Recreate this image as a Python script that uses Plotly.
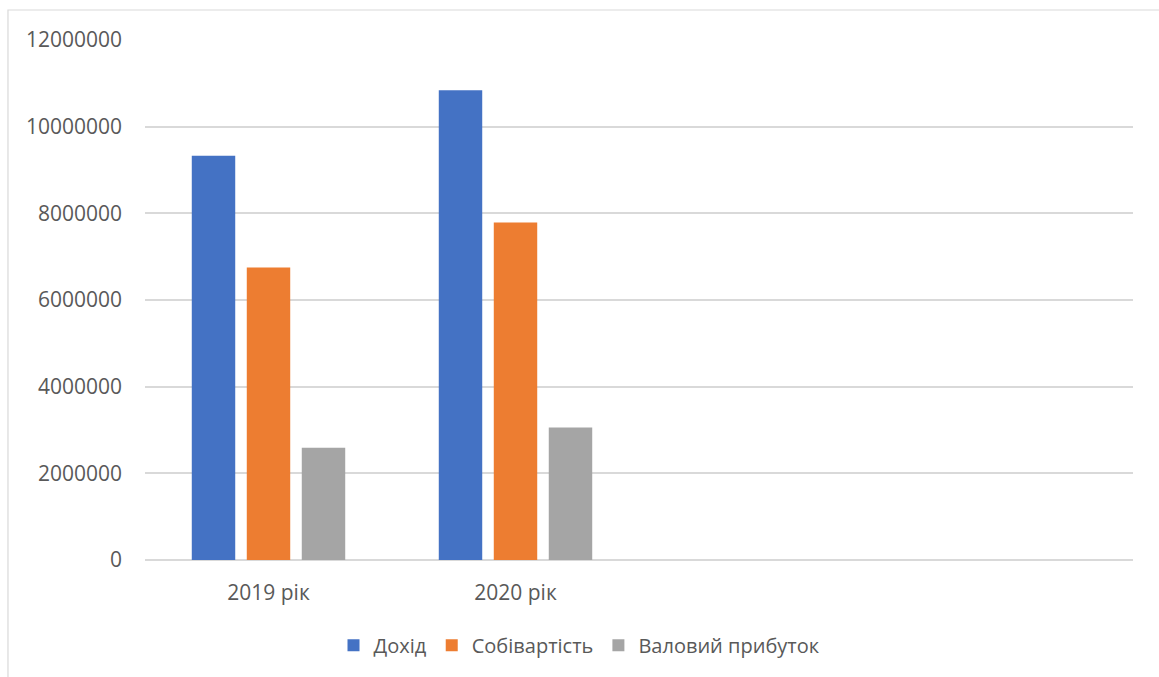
import plotly.graph_objects as go

# Річні показники, грн
years = ["2019 рік", "2020 рік"]
revenue = [9330000, 10840000]      # Дохід
cost = [6750000, 7790000]          # Собівартість
gross_profit = [2590000, 3060000]  # Валовий прибуток

series_names = ["Дохід", "Собівартість", "Валовий прибуток"]
series_colors = ["#4472C4", "#ED7D31", "#A5A5A5"]

y_ticks = [0, 2000000, 4000000, 6000000, 8000000, 10000000, 12000000]

FONT = "Open Sans"
TEXT_GRAY = "#595959"
GRID_GRAY = "#D9D9D9"

fig = go.Figure()
for name, vals, color in zip(series_names, [revenue, cost, gross_profit], series_colors):
    fig.add_trace(go.Bar(
        x=years, y=vals, name=name,
        marker=dict(color=color, line=dict(width=0)),
    ))

fig.update_layout(
    width=1159, height=677,
    margin=dict(l=145, r=26, t=40, b=117),
    paper_bgcolor="white", plot_bgcolor="white",
    barmode="group", bargap=0.332, bargroupgap=0.21,
    font=dict(family=FONT, size=20, color=TEXT_GRAY),
    showlegend=True,
    legend=dict(
        orientation="h", xref="container", x=0.5, xanchor="center",
        yref="container", y=0.047, yanchor="middle",
        font=dict(family=FONT, size=20, color=TEXT_GRAY),
        itemwidth=30, traceorder="normal",
    ),
    xaxis=dict(
        type="category", range=[-0.5, 3.5],
        showgrid=False, zeroline=False, showline=False,
        ticks="", ticklabelstandoff=18,
        tickfont=dict(family=FONT, size=21, color=TEXT_GRAY),
    ),
    yaxis=dict(
        range=[0, 12000000], tickvals=y_ticks, ticktext=[str(v) for v in y_ticks],
        showgrid=True, gridcolor=GRID_GRAY, gridwidth=1.5,
        zeroline=True, zerolinecolor=GRID_GRAY, zerolinewidth=1.5,
        showline=False, ticks="", ticklabelstandoff=22,
        tickfont=dict(family=FONT, size=21, color=TEXT_GRAY),
    ),
)

# Chart frame border (left and top edges visible)
fig.add_shape(
    type="rect", xref="paper", yref="paper",
    x0=-0.1387, x1=1.06, y0=-0.35, y1=1.0577,
    line=dict(color=GRID_GRAY, width=1.2), fillcolor="rgba(0,0,0,0)",
    layer="below",
)

fig.write_html("out.html")
